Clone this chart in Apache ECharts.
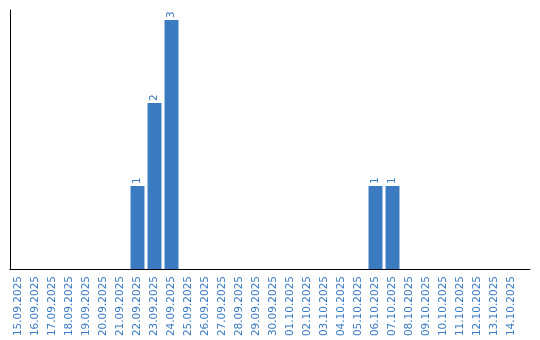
<!DOCTYPE html>
<html>
<head>
<meta charset="utf-8">
<script src="https://cdn.jsdelivr.net/npm/echarts@6/dist/echarts.min.js"></script>
<style>html,body{margin:0;padding:0;background:#fff}#c{width:540px;height:340px}</style>
</head>
<body>
<div id="c"></div>
<script>
const categories = ["15.09.2025","16.09.2025","17.09.2025","18.09.2025","19.09.2025","20.09.2025","21.09.2025","22.09.2025","23.09.2025","24.09.2025","25.09.2025","26.09.2025","27.09.2025","28.09.2025","29.09.2025","30.09.2025","01.10.2025","02.10.2025","03.10.2025","04.10.2025","05.10.2025","06.10.2025","07.10.2025","08.10.2025","09.10.2025","10.10.2025","11.10.2025","12.10.2025","13.10.2025","14.10.2025"];
const values = [0,0,0,0,0,0,0,1,2,3,0,0,0,0,0,0,0,0,0,0,0,1,1,0,0,0,0,0,0,0];

const blue = '#3a7bc2';
const font = 'DejaVu Sans';
const chart = echarts.init(document.getElementById('c'), null, {renderer:'canvas'});
chart.setOption({
  animation: false,
  grid: [
    {left: 10, right: 20, top: 10, bottom: 71},
    {left: 10, right: 10, top: 10, bottom: 71}
  ],
  xAxis: [
    {
      type: 'category', gridIndex: 0, data: categories,
      axisLine: {show: true, lineStyle: {color: '#000', width: 1}},
      axisTick: {show: false},
      axisLabel: {rotate: 90, interval: 0, color: blue, fontFamily: font, fontSize: 10.5, margin: 7}
    },
    {
      type: 'value', gridIndex: 1, min: 0, max: 1,
      axisLine: {show: true, lineStyle: {color: '#000', width: 1}},
      axisTick: {show: false}, axisLabel: {show: false}, splitLine: {show: false}
    }
  ],
  yAxis: [
    {
      type: 'value', gridIndex: 0, min: 0, max: 3.12,
      axisLine: {show: true, lineStyle: {color: '#000', width: 1}},
      axisTick: {show: false}, axisLabel: {show: false}, splitLine: {show: false}
    },
    {type: 'value', gridIndex: 1, show: false, min: 0, max: 1}
  ],
  series: [{
    type: 'bar', xAxisIndex: 0, yAxisIndex: 0,
    data: values.map(v => v === 0 ? null : v),
    barCategoryGap: '18%',
    itemStyle: {color: blue},
    label: {
      show: true, position: 'top', rotate: 90, align: 'left', verticalAlign: 'middle',
      distance: 2, color: blue, fontFamily: font, fontSize: 10.5
    }
  }]
});
</script>
</body>
</html>
